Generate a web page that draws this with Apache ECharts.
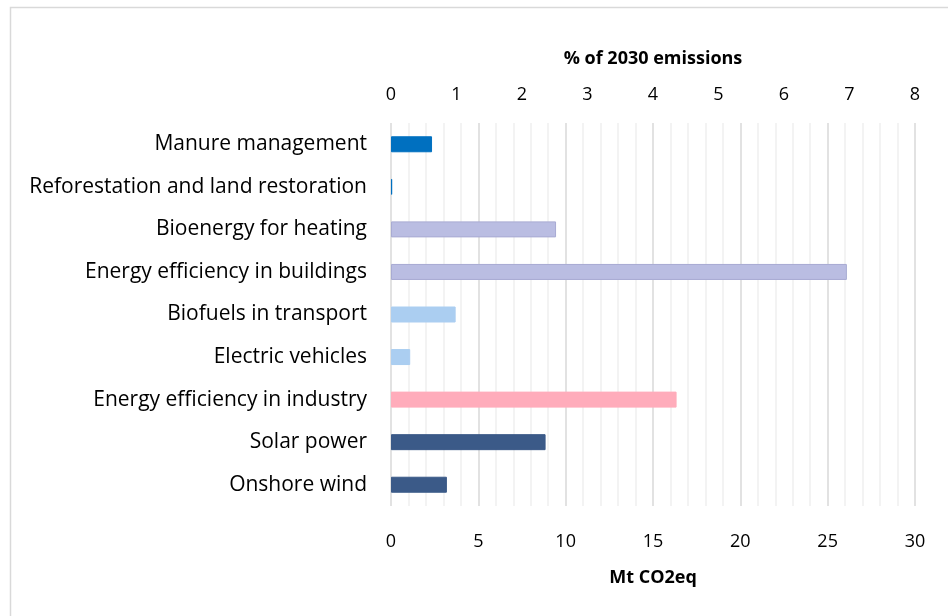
<!DOCTYPE html>
<html>
<head>
<meta charset="utf-8">
<title>Mitigation measures</title>
<script src="https://cdn.jsdelivr.net/npm/echarts@6/dist/echarts.min.js"></script>
<style>
  html, body { margin: 0; padding: 0; background: #fff; }
  #chart { width: 948px; height: 616px; }
</style>
</head>
<body>
<div id="chart"></div>
<script>
// categories, top to bottom
const categories = [
  'Manure management',
  'Reforestation and land restoration',
  'Bioenergy for heating',
  'Energy efficiency in buildings',
  'Biofuels in transport',
  'Electric vehicles',
  'Energy efficiency in industry',
  'Solar power',
  'Onshore wind'
]
// Mt CO2eq, same order
const reduction = [2.35, 0.07, 9.45, 26.1, 3.7, 1.1, 16.35, 8.85, 3.2]
const mtTicks = [0, 5, 10, 15, 20, 25, 30]
const pctTicks = [0, 1, 2, 3, 4, 5, 6, 7, 8]

// bar colours by sector (style only)
const barColors = ['#0070c0', '#0070c0', '#babde2', '#babde2', '#abcef1', '#abcef1', '#ffacbb', '#3b5a88', '#3b5a88']
const barBorders = ['#0070c0', '#0070c0', '#a8abd3', '#a8abd3', '#abcef1', '#abcef1', '#ffacbb', '#3b5a88', '#3b5a88']

const font = '"Open Sans", Lato, sans-serif'
const chart = echarts.init(document.getElementById('chart'))

const option = {
  animation: false,
  graphic: [{
    type: 'rect',
    shape: { x: 10.5, y: 7.5, width: 1000, height: 700 },
    style: { fill: 'none', stroke: '#d9d9d9', lineWidth: 1.5 },
    silent: true
  }],
  grid: {
    left: 391,
    right: 33,
    top: 123,
    bottom: 110
  },
  xAxis: [{
    type: 'value',
    position: 'bottom',
    min: mtTicks[0],
    max: mtTicks[mtTicks.length - 1],
    interval: 5,
    name: 'Mt CO2eq',
    nameLocation: 'middle',
    nameGap: 63,
    nameTextStyle: { fontFamily: font, fontSize: 18, fontWeight: 'bold', color: '#000' },
    axisLine: { show: false },
    axisTick: { show: false },
    axisLabel: { margin: 27, fontFamily: font, fontSize: 18, color: '#000' },
    splitLine: { show: true, lineStyle: { color: '#d9d9d9', width: 1.5 } },
    minorTick: { show: false, splitNumber: 5 },
    minorSplitLine: { show: true, lineStyle: { color: '#efefef', width: 1.5 } }
  }, {
    type: 'value',
    position: 'top',
    min: pctTicks[0],
    max: pctTicks[pctTicks.length - 1],
    interval: 1,
    name: '% of 2030 emissions',
    nameLocation: 'middle',
    nameGap: 55,
    nameTextStyle: { fontFamily: font, fontSize: 18, fontWeight: 'bold', color: '#000' },
    axisLine: { show: false },
    axisTick: { show: false },
    axisLabel: { margin: 19, fontFamily: font, fontSize: 18, color: '#000' },
    splitLine: { show: false }
  }],
  yAxis: {
    type: 'category',
    inverse: true,
    data: categories,
    axisLine: { show: false },
    axisTick: { show: false },
    axisLabel: { margin: 24, fontFamily: font, fontSize: 21, color: '#000' }
  },
  series: [{
    type: 'bar',
    xAxisIndex: 0,
    barWidth: 16,
    data: reduction.map((v, i) => ({
      value: v,
      itemStyle: { color: barColors[i], borderColor: barBorders[i], borderWidth: 1 }
    }))
  }]
}

chart.setOption(option)
</script>
</body>
</html>
